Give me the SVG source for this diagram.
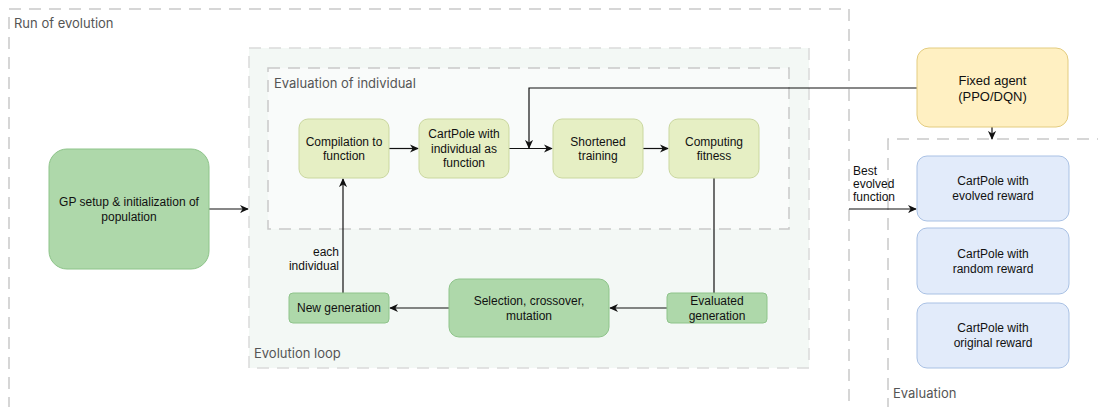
<svg xmlns="http://www.w3.org/2000/svg" width="1098" height="407" viewBox="0 0 1098 407">
  <style>
    .frame { fill: none; stroke: #c9c9c9; stroke-width: 1.5; stroke-dasharray: 12 8; }
    .loop { fill: #f3f8f5; stroke: #dadada; stroke-width: 1.5; stroke-dasharray: 12 8; }
    .inner { fill: #f9fbfa; stroke: #c9c9c9; stroke-width: 1.5; stroke-dasharray: 12 8; }
    .flabel { font-family: Inter, "Liberation Sans", sans-serif; font-size: 13px; fill: #555555; }
    .step { fill: #e6efc4; stroke: #cad79f; stroke-width: 1; }
    .gen { fill: #aed8aa; stroke: #8ec48a; stroke-width: 1; }
    .agent { fill: #fff0c2; stroke: #e3cc80; stroke-width: 1; }
    .env { fill: #e2ebfa; stroke: #a9c1e4; stroke-width: 1; }
    .t { font-family: "Liberation Sans", Arial, sans-serif; font-size: 12px; fill: #111111; text-anchor: middle; }
    .t13 { font-size: 13px; }
    .lt { font-family: "Liberation Sans", Arial, sans-serif; font-size: 12px; fill: #111111; }
    .edge { fill: none; stroke: #111111; stroke-width: 1.2; }
  </style>
  <defs>
    <marker id="arrow" viewBox="0 0 10 10" refX="9" refY="5" markerWidth="9" markerHeight="9" markerUnits="userSpaceOnUse" orient="auto">
      <path d="M0,0.5 L10,5 L0,9.5 L3,5 Z" fill="#111111"/>
    </marker>
  </defs>

  <!-- outer frames -->
  <g id="run-of-evolution">
    <rect class="frame" x="9" y="9" width="840" height="420"/>
    <text class="flabel" x="14" y="28">Run of evolution</text>
  </g>
  <g id="evaluation">
    <path class="frame" d="M888,430 L888,139 L1110,139"/>
    <text class="flabel" x="893" y="398">Evaluation</text>
  </g>
  <g id="evolution-loop">
    <rect class="loop" x="249" y="48" width="560" height="320"/>
    <text class="flabel" x="254" y="358">Evolution loop</text>
  </g>
  <g id="evaluation-of-individual">
    <rect class="inner" x="268" y="68" width="521" height="161"/>
    <text class="flabel" x="274" y="88">Evaluation of individual</text>
  </g>

  <!-- connectors -->
  <g id="connectors">
    <line class="edge" x1="209" y1="209" x2="248" y2="209" marker-end="url(#arrow)"/>
    <line class="edge" x1="389" y1="148.5" x2="418" y2="148.5" marker-end="url(#arrow)"/>
    <line class="edge" x1="509" y1="148.5" x2="552" y2="148.5" marker-end="url(#arrow)"/>
    <line class="edge" x1="643" y1="148.5" x2="668" y2="148.5" marker-end="url(#arrow)"/>
    <path class="edge" d="M917,88 L529,88 L529,148" marker-end="url(#arrow)"/>
    <path class="edge" d="M714,178 L714,293"/>
    <line class="edge" x1="667" y1="308" x2="610" y2="308" marker-end="url(#arrow)"/>
    <line class="edge" x1="449" y1="308" x2="390" y2="308" marker-end="url(#arrow)"/>
    <line class="edge" x1="343" y1="293" x2="343" y2="179" marker-end="url(#arrow)"/>
    <line class="edge" x1="992" y1="127" x2="992" y2="139" marker-end="url(#arrow)"/>
    <line class="edge" x1="849" y1="209" x2="916" y2="209" marker-end="url(#arrow)"/>
    <text class="lt" x="339" y="256" text-anchor="end">each</text>
    <text class="lt" x="339" y="270" text-anchor="end">individual</text>
    <text class="lt" x="853" y="175">Best</text>
    <text class="lt" x="853" y="188">evolved</text>
    <text class="lt" x="853" y="201">function</text>
  </g>

  <!-- nodes -->
  <g id="gp-setup">
    <rect class="gen" x="49" y="149" width="160" height="120" rx="18"/>
    <text class="t" x="129" y="205.5">GP setup &amp; initialization of</text>
    <text class="t" x="129" y="220.5">population</text>
  </g>
  <g id="compilation">
    <rect class="step" x="299" y="119" width="90" height="59" rx="9"/>
    <text class="t" x="344" y="145.5">Compilation to</text>
    <text class="t" x="344" y="159.5">function</text>
  </g>
  <g id="cartpole-individual">
    <rect class="step" x="419" y="119" width="90" height="59" rx="9"/>
    <text class="t" x="464" y="138.3">CartPole with</text>
    <text class="t" x="464" y="152.8">individual as</text>
    <text class="t" x="464" y="167.3">function</text>
  </g>
  <g id="shortened-training">
    <rect class="step" x="553" y="119" width="90" height="59" rx="9"/>
    <text class="t" x="598" y="145.5">Shortened</text>
    <text class="t" x="598" y="160">training</text>
  </g>
  <g id="computing-fitness">
    <rect class="step" x="669" y="119" width="90" height="59" rx="9"/>
    <text class="t" x="714" y="145.5">Computing</text>
    <text class="t" x="714" y="160">fitness</text>
  </g>
  <g id="new-generation">
    <rect class="gen" x="289" y="293" width="100" height="30" rx="4"/>
    <text class="t" x="339" y="312.3">New generation</text>
  </g>
  <g id="selection">
    <rect class="gen" x="449" y="279" width="160" height="58" rx="10"/>
    <text class="t" x="529" y="305">Selection, crossover,</text>
    <text class="t" x="529" y="320">mutation</text>
  </g>
  <g id="evaluated-generation">
    <rect class="gen" x="667" y="293" width="100" height="30" rx="4"/>
    <text class="t" x="717" y="305">Evaluated</text>
    <text class="t" x="717" y="320">generation</text>
  </g>
  <g id="fixed-agent">
    <rect class="agent" x="917" y="48" width="151" height="79" rx="12"/>
    <text class="t t13" x="992.5" y="85">Fixed agent</text>
    <text class="t t13" x="992.5" y="101">(PPO/DQN)</text>
  </g>
  <g id="cartpole-evolved">
    <rect class="env" x="917" y="156" width="152" height="65" rx="10"/>
    <text class="t" x="993" y="185.3">CartPole with</text>
    <text class="t" x="993" y="199.5">evolved reward</text>
  </g>
  <g id="cartpole-random">
    <rect class="env" x="917" y="228" width="152" height="66" rx="10"/>
    <text class="t" x="993" y="258">CartPole with</text>
    <text class="t" x="993" y="272.5">random reward</text>
  </g>
  <g id="cartpole-original">
    <rect class="env" x="917" y="303" width="152" height="65" rx="10"/>
    <text class="t" x="993" y="332">CartPole with</text>
    <text class="t" x="993" y="346.5">original reward</text>
  </g>
</svg>
